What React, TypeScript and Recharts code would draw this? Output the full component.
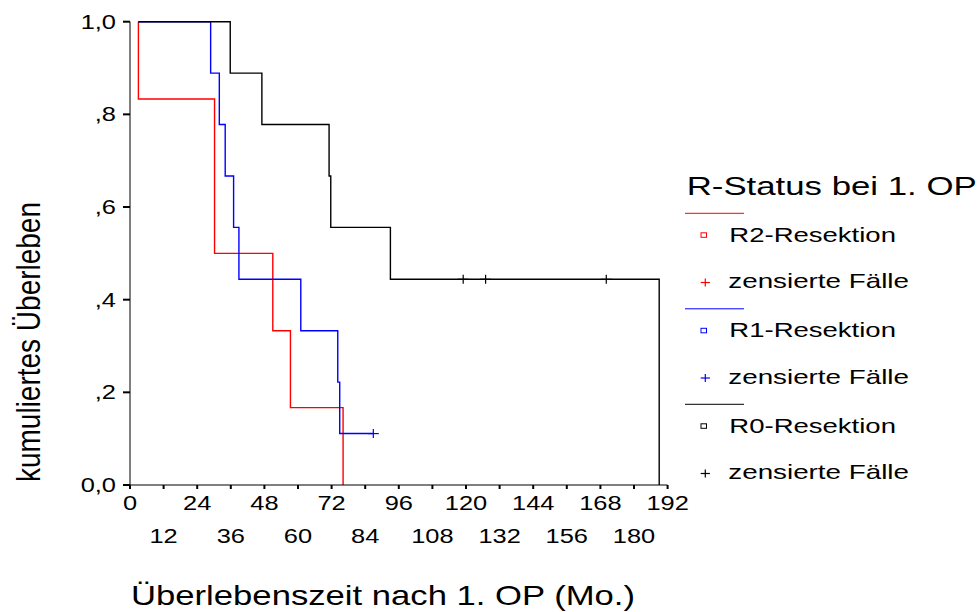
import { ComposedChart, Legend, Line, Scatter, XAxis, YAxis } from "recharts";

const FONT = '"Liberation Sans", Arial, Helvetica, sans-serif';
const RED = "#ff0000";
const BLUE = "#0000ff";
const BLACK = "#000000";

// Kaplan-Meier curves: months after first operation / cumulative survival
const CURVE_START = 3.0;

const r2EventTimes = [3.0, 30.2, 51.0, 57.3, 76.1];
const r2Survival = [0.833, 0.5, 0.333, 0.167, 0];
const r2Censored: number[] = [];

const r1EventTimes = [28.8, 31.9, 34.0, 37.0, 38.9, 61.0, 74.2, 74.9];
const r1Survival = [0.889, 0.778, 0.667, 0.556, 0.444, 0.333, 0.222, 0.111];
const r1Censored = [86.9];

const r0EventTimes = [35.8, 47.1, 71.1, 71.7, 93.0, 189.0];
const r0Survival = [0.889, 0.778, 0.667, 0.556, 0.444, 0];
const r0Censored = [119.0, 127.0, 170.1];

const xTicks = [0, 12, 24, 36, 48, 60, 72, 84, 96, 108, 120, 132, 144, 156, 168, 180, 192];
const yTicks = [0, 0.2, 0.4, 0.6, 0.8, 1];
const yTickLabels = ["0,0", ",2", ",4", ",6", ",8", "1,0"];

type Pt = { t: number; s: number };

function survivalAt(times: number[], surv: number[], t: number) {
  let s = 1;
  times.forEach((et, i) => {
    if (et <= t) s = surv[i];
  });
  return s;
}

function stepPoints(times: number[], surv: number[], censored: number[]): Pt[] {
  const pts: Pt[] = [{ t: CURVE_START, s: 1 }];
  times.forEach((t, i) => pts.push({ t, s: surv[i] }));
  const lastCens = censored.length ? Math.max(...censored) : -1;
  if (lastCens > times[times.length - 1]) {
    pts.push({ t: lastCens, s: surv[surv.length - 1] });
  }
  return pts;
}

function censorPoints(times: number[], surv: number[], censored: number[]): Pt[] {
  return censored.map((t) => ({ t, s: survivalAt(times, surv, t) }));
}

const groups = [
  { name: "R2-Resektion", color: RED, line: stepPoints(r2EventTimes, r2Survival, r2Censored), cens: censorPoints(r2EventTimes, r2Survival, r2Censored) },
  { name: "R1-Resektion", color: BLUE, line: stepPoints(r1EventTimes, r1Survival, r1Censored), cens: censorPoints(r1EventTimes, r1Survival, r1Censored) },
  { name: "R0-Resektion", color: BLACK, line: stepPoints(r0EventTimes, r0Survival, r0Censored), cens: censorPoints(r0EventTimes, r0Survival, r0Censored) },
];

// text squeezed/stretched to a fixed run length
function FitText({ x, y, size, length, children }: any) {
  return (
    <text x={x} y={y} fontSize={size} fontFamily={FONT} fill="#000" textLength={length} lengthAdjust="spacingAndGlyphs">
      {children}
    </text>
  );
}

function PlusMark({ cx, cy, color, w = 5.5, h = 4.5 }: any) {
  return (
    <g stroke={color} strokeWidth={1.2}>
      <line x1={cx - w} x2={cx + w} y1={cy} y2={cy} />
      <line x1={cx} x2={cx} y1={cy - h} y2={cy + h} />
    </g>
  );
}

function XTick({ x, y, payload }: any) {
  const secondRow = (payload.value / 12) % 2 === 1;
  const baseline = y + (secondRow ? 51.7 : 19);
  return (
    <text transform={`translate(${x},${baseline}) scale(1.27,1)`} textAnchor="middle" fontSize={20} fontFamily={FONT} fill="#000">
      {payload.value}
    </text>
  );
}

function YTick({ x, y, payload, index }: any) {
  return (
    <text transform={`translate(${x - 5},${y + 7}) scale(1.27,1)`} textAnchor="end" fontSize={20} fontFamily={FONT} fill="#000">
      {yTickLabels[index] ?? payload.value}
    </text>
  );
}

function SurvivalLegend() {
  return (
    <svg width={310} height={340} style={{ display: "block", overflow: "visible" }}>
      <FitText x={16.7} y={35} size={25.5} length={290}>
        R-Status bei 1. OP
      </FitText>
      {groups.map((g, i) => {
        const ly = 53.3 + i * 95.5;
        return (
          <g key={g.name}>
            <line x1={15} x2={74} y1={ly} y2={ly} stroke={g.color} strokeWidth={1} />
            <rect x={31} y={ly + 19.5} width={5.5} height={4.5} fill="none" stroke={g.color} strokeWidth={1} />
            <FitText x={59.3} y={ly + 28.5} size={21} length={166.7}>
              {g.name}
            </FitText>
            <PlusMark cx={35.3} cy={ly + 69.2} color={g.color} w={4.6} h={4} />
            <FitText x={58.3} y={ly + 75} size={21} length={180.7}>
              zensierte Fälle
            </FitText>
          </g>
        );
      })}
    </svg>
  );
}

export default function App() {
  return (
    <div style={{ position: "absolute", left: 0, top: 0, width: 980, height: 612, background: "#fff" }}>
      <ComposedChart width={980} height={612} margin={{ top: 21.7, right: 312.4, bottom: 7, left: 0 }}>
        <XAxis
          type="number"
          dataKey="t"
          domain={[0, 192]}
          ticks={xTicks}
          interval={0}
          height={120}
          tickSize={4}
          tickMargin={2}
          axisLine={{ stroke: "#000", strokeWidth: 1 }}
          tickLine={{ stroke: "#000", strokeWidth: 2 }}
          tick={<XTick />}
          allowDataOverflow
          label={() => (
            <FitText x={131} y={605} size={28} length={504}>
              Überlebenszeit nach 1. OP (Mo.)
            </FitText>
          )}
        />
        <YAxis
          type="number"
          dataKey="s"
          domain={[0, 1]}
          ticks={yTicks}
          interval={0}
          width={130}
          tickSize={7}
          tickMargin={2}
          axisLine={{ stroke: "#000", strokeWidth: 1 }}
          tickLine={{ stroke: "#000", strokeWidth: 2 }}
          tick={<YTick />}
          label={() => (
            <text
              transform="translate(40,342) scale(1.28,1) rotate(-90)"
              textAnchor="middle"
              fontSize={26}
              fontFamily={FONT}
              fill="#000"
              textLength={280}
              lengthAdjust="spacingAndGlyphs"
            >
              kumuliertes Überleben
            </text>
          )}
        />
        <Legend
          layout="vertical"
          align="center"
          verticalAlign="middle"
          wrapperStyle={{ left: 670, top: 160, width: 310, height: 340 }}
          content={() => <SurvivalLegend />}
        />
        {groups.map((g) => (
          <Line
            key={g.name}
            data={g.line}
            dataKey="s"
            type="stepAfter"
            stroke={g.color}
            strokeWidth={1.4}
            dot={false}
            activeDot={false}
            isAnimationActive={false}
            legendType="none"
          />
        ))}
        {groups.map((g) => (
          <Scatter
            key={g.name + "-cens"}
            data={g.cens}
            dataKey="s"
            fill={g.color}
            isAnimationActive={false}
            legendType="none"
            shape={(p: any) => <PlusMark cx={p.cx} cy={p.cy} color={g.color} />}
          />
        ))}
      </ComposedChart>
    </div>
  );
}
